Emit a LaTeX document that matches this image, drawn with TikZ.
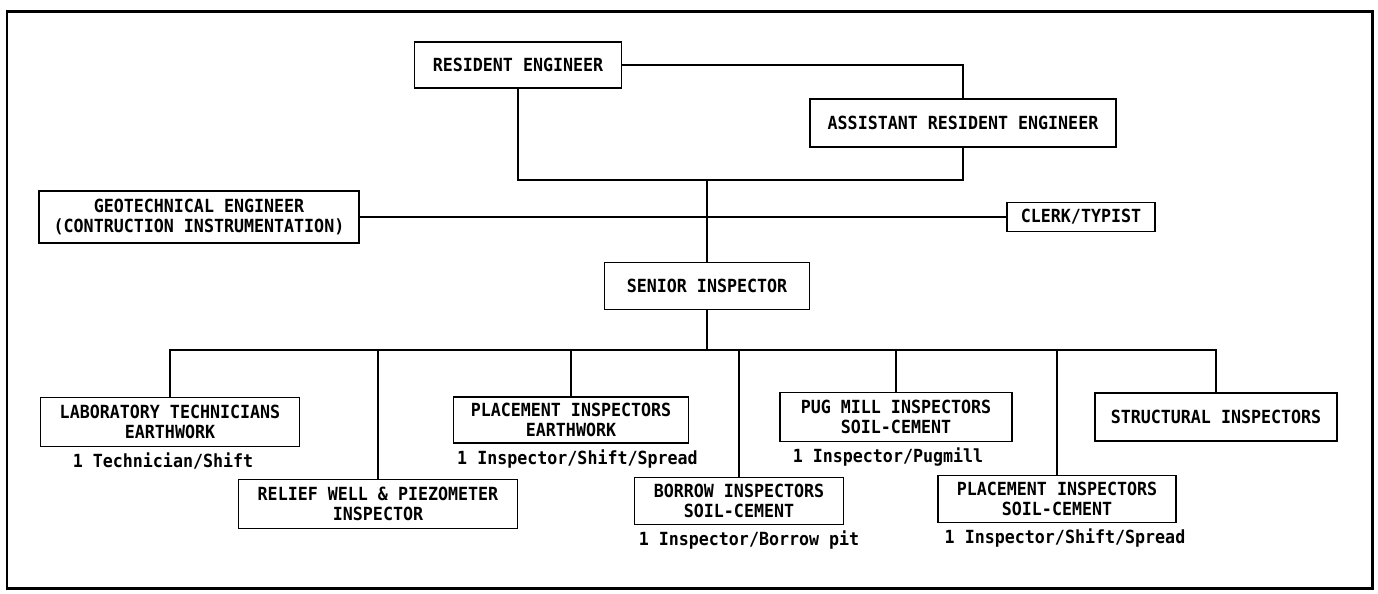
\documentclass[tikz,border=0pt]{standalone}
\usepackage{fontspec}
\setmonofont{DejaVu Sans Mono}[FakeStretch=0.92]
\usetikzlibrary{positioning}

\begin{document}
\begin{tikzpicture}[x=0.02cm, y=-0.02cm, font=\fontsize{10.3}{11.4}\selectfont\ttfamily\bfseries,
    caja/.style={draw, line width=1.1pt, align=center, inner sep=1pt},
    nota/.style={inner sep=0pt, below=0.1cm of #1},
    enlace/.style={line width=1pt}]
        \useasboundingbox (0,0) rectangle (1378,593);
        \draw[line width=1.7pt] (7,11) rectangle (1372,588);

        \node[caja, minimum width=4.14cm, minimum height=0.92cm] (re) at (518,65) {RESIDENT ENGINEER};
        \node[caja, minimum width=6.12cm, minimum height=0.96cm] (are) at (963,123) {ASSISTANT RESIDENT ENGINEER};
        \node[caja, minimum width=6.4cm, minimum height=1.04cm] (geo) at (199,217)
          {GEOTECHNICAL ENGINEER\\(CONTRUCTION INSTRUMENTATION)};
        \node[caja, minimum width=2.96cm, minimum height=0.58cm] (clerk) at (1081,217) {CLERK/TYPIST};
        \node[caja, minimum width=4.1cm, minimum height=0.94cm] (senior) at (707,286) {SENIOR INSPECTOR};

        \node[caja, minimum width=5.18cm, minimum height=0.98cm] (lab) at (170,422) {LABORATORY TECHNICIANS\\EARTHWORK};
        \node[caja, minimum width=5.58cm, minimum height=0.98cm] (relief) at (378,504) {RELIEF WELL \& PIEZOMETER\\INSPECTOR};
        \node[caja, minimum width=4.7cm, minimum height=0.92cm] (placeE) at (571,420) {PLACEMENT INSPECTORS\\EARTHWORK};
        \node[caja, minimum width=4.18cm, minimum height=0.94cm] (borrow) at (739,501) {BORROW INSPECTORS\\SOIL-CEMENT};
        \node[caja, minimum width=4.64cm, minimum height=0.98cm] (pug) at (896,417) {PUG MILL INSPECTORS\\SOIL-CEMENT};
        \node[caja, minimum width=4.76cm, minimum height=0.94cm] (placeS) at (1057,499) {PLACEMENT INSPECTORS\\SOIL-CEMENT};
        \node[caja, minimum width=4.84cm, minimum height=0.96cm] (struct) at (1216,417) {STRUCTURAL INSPECTORS};

        \node[nota=lab, xshift=-0.14cm] (labn) {1 Technician/Shift};
        \node[nota=placeE, xshift=0.13cm] (placeEn) {1 Inspector/Shift/Spread};
        \node[nota=borrow, xshift=0.2cm] (borrown) {1 Inspector/Borrow pit};
        \node[nota=pug, xshift=-0.16cm] (pugn) {1 Inspector/Pugmill};
        \node[nota=placeS, xshift=0.16cm] (placeSn) {1 Inspector/Shift/Spread};

        \coordinate (nudo) at (707,180);
        \coordinate (bus) at (707,350);
        \draw[enlace] (re.east) -| (are.north);
        \draw[enlace] (re.south) -- (re.south |- nudo) -| (are.south);
        \draw[enlace] (nudo) -- (senior.north);
        \draw[enlace] (geo.east) -- (clerk.west);
        \draw[enlace] (senior.south) -- (bus);
        \draw[enlace] (lab.north) |- (struct.north |- bus) -- (struct.north);
        \foreach \n in {relief,placeE,borrow,pug,placeS}
          \draw[enlace] (\n.north) -- (\n.north |- bus);
      \end{tikzpicture}
\end{document}
